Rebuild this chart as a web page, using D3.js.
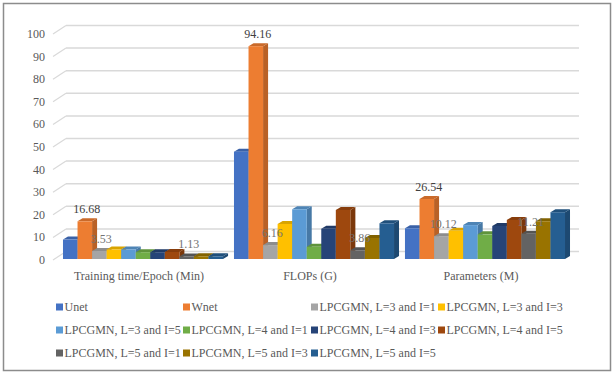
<!DOCTYPE html>
<html>
<head>
<meta charset="utf-8">
<script src="https://d3js.org/d3.v7.min.js"></script>
<style>
  body { margin: 0; background: #fff; }
</style>
</head>
<body>
<svg></svg>
<script>
let categories = ['Training time/Epoch (Min)', 'FLOPs (G)', 'Parameters (M)']
let seriesNames = [
    'Unet', 'Wnet',
    'LPCGMN, L=3 and I=1', 'LPCGMN, L=3 and I=3', 'LPCGMN, L=3 and I=5',
    'LPCGMN, L=4 and I=1', 'LPCGMN, L=4 and I=3', 'LPCGMN, L=4 and I=5',
    'LPCGMN, L=5 and I=1', 'LPCGMN, L=5 and I=3', 'LPCGMN, L=5 and I=5'
]
let colors = ['#4472C4', '#ED7D31', '#A5A5A5', '#FFC000', '#5B9BD5', '#70AD47',
              '#264478', '#9E480E', '#636363', '#997300', '#255E91']

// one array per category, in series order
let trainingTime = [8.6, 16.68, 3.53, 4.2, 4.2, 3.0, 3.0, 3.1, 1.13, 1.2, 1.2]
let flops = [47.5, 94.16, 6.16, 15.5, 22.0, 5.4, 13.4, 21.7, 3.86, 9.3, 15.8]
let params = [13.6, 26.54, 10.12, 12.5, 15.0, 10.9, 14.6, 17.3, 11.21, 16.7, 20.7]
let yTicks = [0, 10, 20, 30, 40, 50, 60, 70, 80, 90, 100]
// series that carry data labels
let labelled = {1: '#404040', 2: '#737373', 8: '#737373'}

let values = [trainingTime, flops, params]

let width = 614
let height = 374

// 3d offsets: wall depth and bar depth
let wallDx = 13
let wallDy = -8.5
let barDx = 5
let barDy = -3

let font = 'Liberation Serif'
let fontSize = 12

let svg = d3.select('svg')
    .attr('width', width)
    .attr('height', height)

svg.append('rect')
    .attr('x', 3.5).attr('y', 3.5)
    .attr('width', 607).attr('height', 367)
    .attr('fill', '#fff')
    .attr('stroke', '#8c8c8c')
    .attr('stroke-width', 1.5)

let yScale = d3.scaleLinear().domain([0, 100]).range([259, 33])

let xScale = d3.scaleBand()
    .domain(categories)
    .range([57, 571])
    .paddingInner(0.064)
    .paddingOuter(0.035)

let xInner = d3.scaleBand()
    .domain(d3.range(seriesNames.length))
    .range([0, xScale.bandwidth()])

let addText = (sel, x, y, txt, color, anchor) => {
    return sel.append('text')
        .attr('x', x).attr('y', y)
        .attr('text-anchor', anchor || 'start')
        .attr('font-family', font)
        .attr('font-size', fontSize)
        .attr('fill', color)
        .text(txt)
}

// gridlines on back wall + diagonal ticks on side wall
let grid = svg.append('g')
yTicks.forEach((t) => {
    let y = yScale(t) + 1
    grid.append('line')
        .attr('x1', 66).attr('x2', 579)
        .attr('y1', y + wallDy).attr('y2', y + wallDy)
        .attr('stroke', '#d9d9d9').attr('stroke-width', 1.5)
    grid.append('line')
        .attr('x1', 53).attr('x2', 53 + wallDx)
        .attr('y1', y).attr('y2', y + wallDy)
        .attr('stroke', '#d9d9d9').attr('stroke-width', 1.2)
    addText(grid, 45, y + 4, t, '#595959', 'end')
})

let drawBars = () => {
    categories.forEach((cat, ci) => {
        let g = svg.append('g')
        values[ci].forEach((v, si) => {
            let x0 = xScale(cat) + xInner(si)
            let w = xInner.bandwidth()
            let yTop = yScale(v)
            let yBot = yScale(0)
            let c = d3.color(colors[si])
            // side face
            g.append('path')
                .attr('d', `M${x0 + w},${yBot} L${x0 + w + barDx},${yBot + barDy} L${x0 + w + barDx},${yTop + barDy} L${x0 + w},${yTop} Z`)
                .attr('fill', c.darker(0.7))
            // top face
            g.append('path')
                .attr('d', `M${x0},${yTop} L${x0 + barDx},${yTop + barDy} L${x0 + w + barDx},${yTop + barDy} L${x0 + w},${yTop} Z`)
                .attr('fill', c.darker(0.45))
            // front face
            g.append('rect')
                .attr('x', x0).attr('y', yTop)
                .attr('width', w).attr('height', yBot - yTop)
                .attr('fill', c)
        })
    })
}

let drawLabels = () => {
    categories.forEach((cat, ci) => {
        values[ci].forEach((v, si) => {
            if (!labelled[si]) return
            let x = xScale(cat) + xInner(si) + xInner.bandwidth() / 2 + 2
            addText(svg, x, yScale(v) - 8, v.toFixed(2), labelled[si], 'middle')
        })
    })
}

let drawAxis = () => {
    categories.forEach((cat) => {
        addText(svg, xScale(cat) + xScale.bandwidth() / 2 - 4, 280, cat, '#595959', 'middle')
    })
}

let drawLegend = () => {
    let colX = [56, 183, 311, 438]
    let rowY = [307, 330, 353]
    seriesNames.forEach((name, i) => {
        let x = colX[i % 4]
        let y = rowY[Math.floor(i / 4)]
        svg.append('rect')
            .attr('x', x).attr('y', y - 3.5)
            .attr('width', 7).attr('height', 7)
            .attr('fill', colors[i])
        addText(svg, x + 8.5, y + 4, name, '#595959')
    })
}

drawBars()
drawLabels()
drawAxis()
drawLegend()
</script>
</body>
</html>
